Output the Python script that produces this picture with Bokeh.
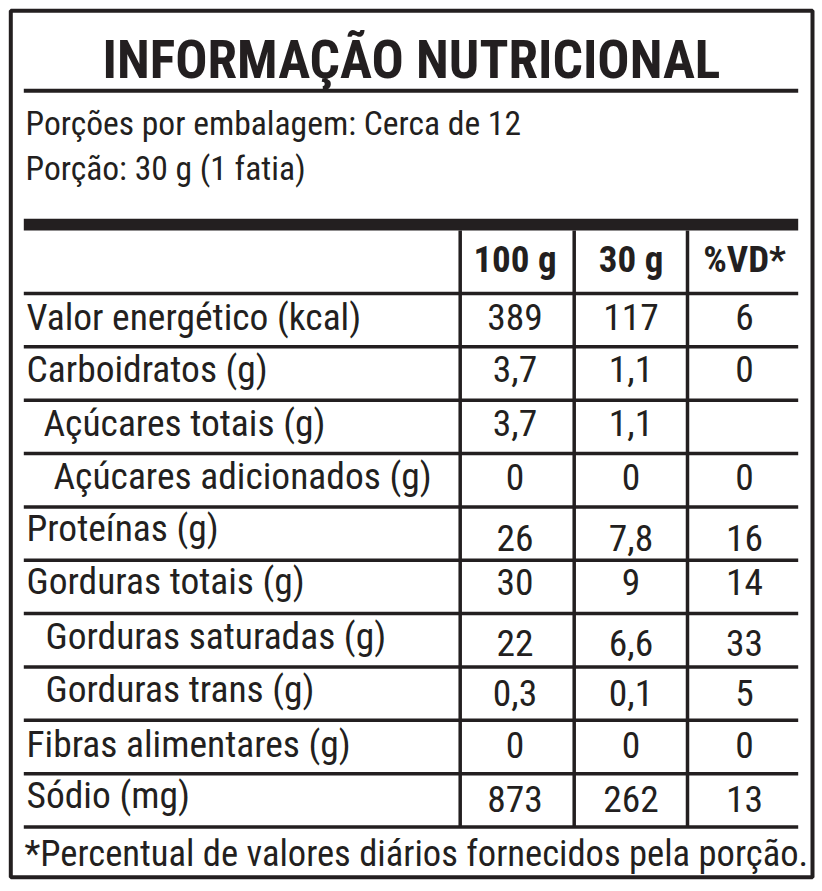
from bokeh.plotting import figure
from bokeh.models import Range1d
from bokeh.core.properties import value
from bokeh.embed import file_html
from bokeh.resources import INLINE

# ---- data ----
title = "INFORMAÇÃO NUTRICIONAL"
servings_line = "Porções por embalagem: Cerca de 12"
portion_line = "Porção: 30 g (1 fatia)"
col_headers = ["100 g", "30 g", "%VD*"]
nutrients = [
    "Valor energético (kcal)",
    "Carboidratos (g)",
    "Açúcares totais (g)",
    "Açúcares adicionados (g)",
    "Proteínas (g)",
    "Gorduras totais (g)",
    "Gorduras saturadas (g)",
    "Gorduras trans (g)",
    "Fibras alimentares (g)",
    "Sódio (mg)",
]
per_100g = ["389", "3,7", "3,7", "0", "26", "30", "22", "0,3", "0", "873"]
per_30g = ["117", "1,1", "1,1", "0", "7,8", "9", "6,6", "0,1", "0", "262"]
daily_value = ["6", "0", "", "0", "16", "14", "33", "5", "0", "13"]
footnote = "*Percentual de valores diários fornecidos pela porção."

# ---- layout (styling / positions) ----
FONT = "Roboto Condensed"
INK = "#231f20"
K = 0.36  # baseline correction (fraction of font size)
indent = [26, 26, 43, 53, 26, 26, 45, 45, 26, 26]
label_dy = [36.5, 36, 36, 36, 34.5, 34.5, 35.5, 36, 37.5, 34.5]
value_dy = [36.5, 36, 36, 37, 44.5, 35, 43, 40, 38.5, 39]
col_lines = [459.7, 573.7, 687.0]
col_centers = [514.5, 630.5, 744.0]
inner_l, inner_r = 23.3, 797.7
table_top = 293.0
row_h = 53.35
n = len(nutrients)

SZ_TITLE, SZ_SUB, SZ_HEAD, SZ_BODY, SZ_FOOT = 53.5, 33.6, 37, 37.5, 36.6


def base(y, size):
    return y - K * size


p = figure(width=822, height=891, x_range=Range1d(0, 822), y_range=Range1d(891, 0),
           output_backend="svg", toolbar_location=None, min_border=0,
           background_fill_color="white", border_fill_color="white")
p.outline_line_color = None
p.xaxis.visible = False
p.yaxis.visible = False
p.xgrid.visible = False
p.ygrid.visible = False

# outer border
p.quad(left=[10.3], right=[812], top=[10.3], bottom=[876.7], fill_color=None,
       line_color=INK, line_width=4)
# title rule
p.segment(x0=[inner_l], x1=[inner_r], y0=[90.3], y1=[90.3], line_color=INK, line_width=4)
# thick bar
p.quad(left=[inner_l], right=[inner_r], top=[218.3], bottom=[230], fill_color=INK, line_color=None)

# row rules
ys = [table_top + i * row_h for i in range(n + 1)]
p.segment(x0=[inner_l] * len(ys), x1=[inner_r] * len(ys), y0=ys, y1=ys,
          line_color=INK, line_width=3.5)
# column rules
bottom_y = ys[-1]
p.segment(x0=col_lines, x1=col_lines, y0=[230] * 3, y1=[bottom_y] * 3,
          line_color=INK, line_width=3.5)

# title
p.text(x=[411], y=[base(78.3, SZ_TITLE)], text=[title], text_font=value(FONT),
       text_font_style="bold", text_font_size=f"{SZ_TITLE}px", text_align="center",
       text_baseline="alphabetic", text_color=INK)
p.text(x=[25, 25], y=[base(135, SZ_SUB), base(180, SZ_SUB)], text=[servings_line, portion_line],
       text_font=value(FONT), text_font_size=f"{SZ_SUB}px", text_align="left",
       text_baseline="alphabetic", text_color=INK)

# headers
p.text(x=col_centers, y=[base(272.5, SZ_HEAD)] * 3, text=col_headers, text_font=value(FONT),
       text_font_style="bold", text_font_size=f"{SZ_HEAD}px", text_align="center",
       text_baseline="alphabetic", text_color=INK)

# labels
p.text(x=indent, y=[base(ys[i] + label_dy[i], SZ_BODY) for i in range(n)], text=nutrients,
       text_font=value(FONT), text_font_size=f"{SZ_BODY}px", text_align="left",
       text_baseline="alphabetic", text_color=INK)

# values
for ci, col in enumerate([per_100g, per_30g, daily_value]):
    p.text(x=[col_centers[ci]] * n, y=[base(ys[i] + value_dy[i], SZ_BODY) for i in range(n)],
           text=col, text_font=value(FONT), text_font_size=f"{SZ_BODY}px", text_align="center",
           text_baseline="alphabetic", text_color=INK)

# footnote
p.text(x=[24], y=[base(866, SZ_FOOT)], text=[footnote], text_font=value(FONT),
       text_font_size=f"{SZ_FOOT}px", text_align="left", text_baseline="alphabetic",
       text_color=INK)

open("out.html", "w").write(file_html(p, INLINE))
